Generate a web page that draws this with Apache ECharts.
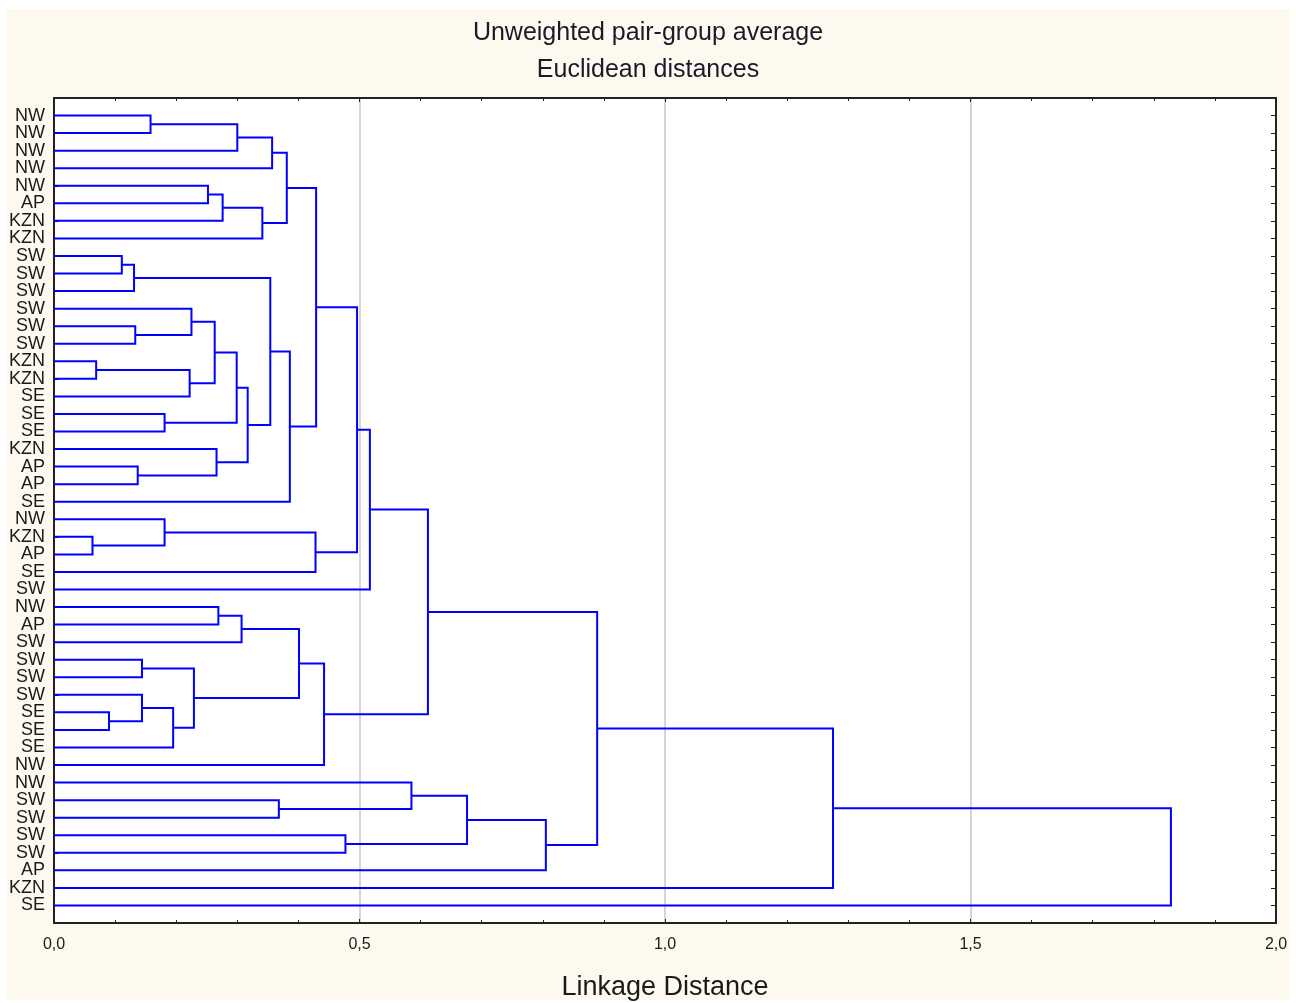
<!DOCTYPE html>
<html>
<head>
<meta charset="utf-8">
<title>Unweighted pair-group average</title>
<script src="https://cdn.jsdelivr.net/npm/echarts@6/dist/echarts.min.js"></script>
<style>
  html, body { margin: 0; padding: 0; background: #ffffff; }
  #chart { width: 1296px; height: 1003px; }
</style>
</head>
<body>
<div id="chart"></div>
<script>
// Leaf labels, top to bottom
const leafLabels = [
  'NW','NW','NW','NW','NW','AP','KZN','KZN',
  'SW','SW','SW','SW','SW','SW','KZN','KZN','SE','SE','SE','KZN','AP','AP','SE',
  'NW','KZN','AP','SE','SW',
  'NW','AP','SW','SW','SW','SW','SE','SE','SE','NW',
  'NW','SW','SW','SW','SW','AP','KZN','SE'
];

// Agglomeration steps: ids 0..45 are leaves, each merge k creates node 46 + k
const mergeLeft  = [0, 46, 47, 4, 49, 50, 48, 8, 53, 12, 11, 14, 57, 56, 17, 59, 20, 19, 61, 54, 65, 52,
                    24, 23, 69, 67, 71, 28, 73, 31, 34, 33, 77, 75, 74, 80, 72, 39, 38, 41, 84, 86, 82, 88, 89];
const mergeRight = [1, 2, 3, 5, 6, 7, 51, 9, 10, 13, 55, 15, 16, 58, 18, 60, 21, 62, 63, 64, 22, 66,
                    25, 68, 26, 70, 27, 29, 30, 32, 35, 76, 36, 78, 79, 37, 81, 40, 83, 42, 85, 43, 87, 44, 45];
const mergeHeight = [0.158, 0.300, 0.357, 0.252, 0.276, 0.341, 0.381, 0.111, 0.131, 0.133, 0.225, 0.069,
                     0.222, 0.263, 0.181, 0.299, 0.137, 0.266, 0.317, 0.354, 0.386, 0.429,
                     0.063, 0.181, 0.428, 0.496, 0.517, 0.269, 0.307, 0.144, 0.090, 0.144, 0.195,
                     0.229, 0.401, 0.442, 0.612, 0.368, 0.585, 0.477, 0.676, 0.805, 0.889, 1.275, 1.828];

const axisTicks = [0, 0.5, 1.0, 1.5, 2.0];

// Node positions: leaves sit at 1..n, a merged node sits midway between its children
const nodeY = leafLabels.map((_, i) => i + 1);
const nodeH = leafLabels.map(() => 0);
const links = [];
mergeLeft.forEach((a, k) => {
  const b = mergeRight[k];
  const h = mergeHeight[k];
  links.push([nodeH[a], nodeY[a], h, nodeY[b], nodeH[b]]);
  nodeY.push((nodeY[a] + nodeY[b]) / 2);
  nodeH.push(h);
});

const FONT = '"Liberation Sans", Arial, sans-serif';
const chart = echarts.init(document.getElementById('chart'), null, { renderer: 'canvas' });

const fmtTick = v => {
  const hit = axisTicks.find(t => Math.abs(t - v) < 1e-9);
  return hit === undefined ? '' : hit.toFixed(1).replace('.', ',');
};

const frameLine = { show: true, onZero: false, lineStyle: { color: '#222222', width: 2 } };
const inTick = len => ({ show: true, inside: true, length: len, lineStyle: { color: '#222' } });

chart.setOption({
  animation: false,
  backgroundColor: 'transparent',
  graphic: [{
    type: 'rect', z: -100, silent: true,
    shape: { x: 7, y: 9, width: 1283, height: 991 },
    style: { fill: '#fef9ef' }
  }],
  title: [
    { text: 'Unweighted pair-group average', left: 'center', top: 16,
      textStyle: { fontFamily: FONT, fontSize: 25, fontWeight: 'normal', color: '#1a1a2a' } },
    { text: 'Euclidean distances', left: 'center', top: 53,
      textStyle: { fontFamily: FONT, fontSize: 25, fontWeight: 'normal', color: '#1a1a2a' } }
  ],
  grid: {
    left: 54, right: 20, top: 98, height: 825,
    containLabel: false, outerBoundsMode: 'none',
    show: true, backgroundColor: '#ffffff', borderWidth: 0
  },
  xAxis: [
    {
      type: 'value', position: 'bottom', min: 0, max: 2, interval: 0.5,
      name: 'Linkage Distance', nameLocation: 'middle', nameGap: 51,
      nameTextStyle: { fontFamily: FONT, fontSize: 27, color: '#1a1a1a' },
      axisLine: frameLine,
      axisTick: inTick(4),
      minorTick: { show: true, splitNumber: 5, length: 3, lineStyle: { color: '#222' } },
      axisLabel: { fontFamily: FONT, fontSize: 16, color: '#1a1a1a', margin: 14, formatter: fmtTick },
      splitLine: { show: true, lineStyle: { color: '#d6d6d6', width: 2 } }
    },
    {
      type: 'value', position: 'top', min: 0, max: 2, interval: 0.5,
      axisLine: frameLine,
      axisTick: inTick(4),
      minorTick: { show: true, splitNumber: 5, length: 3, lineStyle: { color: '#222' } },
      axisLabel: { show: false },
      splitLine: { show: false }
    }
  ],
  yAxis: [
    {
      type: 'value', position: 'left', inverse: true, min: 0, max: 47, interval: 1,
      axisLine: frameLine,
      axisTick: inTick(5),
      axisLabel: {
        fontFamily: FONT, fontSize: 18, color: '#1a1a1a', margin: 9,
        formatter: v => leafLabels[v - 1] || ''
      },
      splitLine: { show: false }
    },
    {
      type: 'value', position: 'right', inverse: true, min: 0, max: 47, interval: 1,
      axisLine: frameLine,
      axisTick: inTick(5),
      axisLabel: { show: false },
      splitLine: { show: false }
    }
  ],
  series: [{
    type: 'custom',
    xAxisIndex: 0, yAxisIndex: 0,
    clip: false,
    data: links,
    encode: { x: [0, 2, 4], y: [1, 3] },
    renderItem: (params, api) => {
      const p0 = api.coord([api.value(0), api.value(1)]);
      const p1 = api.coord([api.value(2), api.value(1)]);
      const p2 = api.coord([api.value(2), api.value(3)]);
      const p3 = api.coord([api.value(4), api.value(3)]);
      return {
        type: 'polyline',
        shape: { points: [p0, p1, p2, p3] },
        style: { stroke: '#0000ff', lineWidth: 2, fill: null }
      };
    }
  }]
});
</script>
</body>
</html>
